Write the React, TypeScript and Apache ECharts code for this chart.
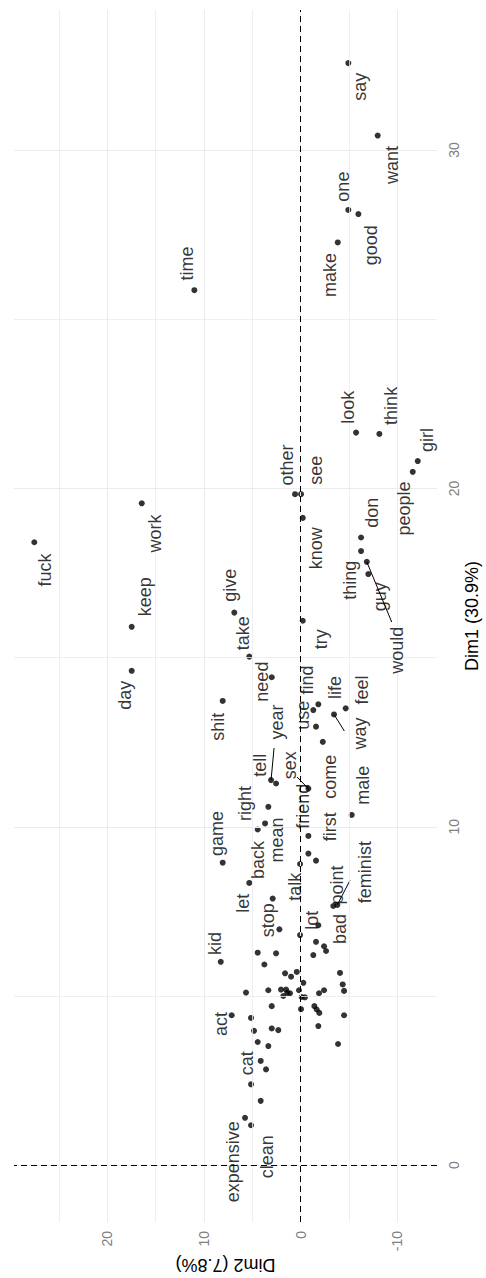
import React, { useEffect, useRef } from "react";
import * as echarts from "echarts";

const words = ["say","want","one","good","make","time","look","think","girl","people","other","see","work","fuck","know","don","thing","would","guy","give","keep","try","take","day","need","shit","life","find","feel","way","use","come","year","tell","sex","right","male","mean","back","friend","first","game","talk","let","stop","point","feminist","lot","bad","kid","act","cat","expensive","clean"];

const dim1 = [32.57,30.43,28.23,28.11,27.27,25.86,21.65,21.61,20.81,20.49,19.83,19.83,19.56,18.41,19.13,18.55,18.15,17.83,17.47,16.33,15.91,16.09,15.03,14.61,14.42,13.72,13.62,13.45,13.50,13.32,12.96,12.51,11.38,11.28,11.13,10.59,10.35,10.10,9.92,9.73,9.00,8.94,8.90,8.34,7.88,7.66,7.69,7.09,6.47,6.01,4.43,2.39,1.40,1.18];
const dim2 = [-4.92,-7.96,-4.92,-5.96,-3.83,11.0,-5.72,-8.13,-12.10,-11.58,0.59,-0.03,16.44,27.55,-0.21,-6.24,-6.24,-6.83,-6.99,6.87,17.48,-0.21,5.32,17.48,3.0,8.07,-1.82,-1.30,-4.65,-3.44,-1.58,-2.28,3.07,2.55,-0.79,3.35,-5.27,3.69,4.45,-0.79,-1.58,8.07,0.07,5.32,2.90,-3.37,-3.78,-1.82,-2.41,8.27,7.14,5.14,5.76,5.14];

const labelDim1 = [31.87,29.56,28.92,27.19,26.31,26.65,22.40,22.44,21.43,19.41,20.69,20.54,18.67,17.59,18.23,19.28,17.29,15.22,16.80,17.14,16.80,15.54,15.72,13.89,14.29,12.96,14.12,14.34,14.04,12.76,13.30,11.48,13.10,11.82,11.82,10.69,11.23,9.61,9.02,10.61,10.0,9.80,8.23,7.74,7.24,8.28,8.66,7.24,6.98,6.55,4.17,3.01,0.10,0.25];
const labelDim2 = [-6.13,-9.41,-4.34,-7.27,-3.03,11.79,-4.92,-9.31,-13.03,-10.71,1.39,-1.58,15.07,26.44,-1.58,-7.34,-5.10,-9.93,-8.20,7.31,16.10,-2.07,5.94,18.17,4.03,8.52,-3.55,-0.62,-6.31,-6.13,-0.27,-3.03,2.48,4.21,1.11,5.76,-6.47,2.42,4.38,-0.24,-3.03,8.69,0.59,5.94,3.35,-3.72,-6.65,-1.14,-4.06,8.86,8.27,5.58,6.97,3.52];

const otherDim1 = [9.21,6.97,6.80,6.60,6.33,6.21,6.28,6.26,5.93,5.67,5.57,5.71,5.68,5.34,5.15,5.39,5.10,5.17,5.19,5.19,5.09,5.08,5.00,5.17,4.97,4.96,5.08,5.17,4.70,4.61,4.70,4.60,4.50,4.43,4.35,4.04,3.99,3.97,4.11,3.64,3.52,3.58,3.08,2.83,1.90];
const otherDim2 = [-0.79,2.21,0.07,-1.58,-2.62,-1.30,4.45,2.55,3.76,1.62,1.00,0.41,-4.06,-4.34,-4.48,-0.27,5.66,3.35,2.04,1.52,1.39,1.11,1.80,0.18,-0.10,-0.44,-1.89,-2.41,3.0,-0.03,-1.41,-1.65,-1.92,-4.48,5.14,3.0,2.32,4.83,-1.82,4.45,3.35,-3.86,4.14,3.59,4.14];

const segWords = ["year","sex","way","would","feminist"];
const segEndDim1 = [12.33,11.47,12.83,16.05,8.42];
const segEndDim2 = [2.76,0.38,-4.51,-9.41,-5.10];

const dim1Ticks = [0,10,20,30];
const dim2Ticks = [-10,0,10,20];
const dim1Minor = [5,15,25];
const dim2Minor = [-5,5,15,25];

const FONT = "Liberation Sans, Arial, sans-serif";

export default function App() {
  const ref = useRef<HTMLDivElement>(null);
  useEffect(() => {
    if (!ref.current) return;
    const chart = echarts.init(ref.current, undefined, { renderer: "svg" });
    const points = words.map((w, i) => [dim2[i], dim1[i]]);
    const others = otherDim1.map((v, i) => [otherDim2[i], v]);
    const labels = words.map((w, i) => ({ value: [labelDim2[i], labelDim1[i]], name: w }));
    const segs = segWords.map((w, k) => {
      const i = words.indexOf(w);
      return { coords: [[dim2[i], dim1[i]], [segEndDim2[k], segEndDim1[k]]] };
    });
    const gridLines = [
      ...dim2Ticks.map((v) => ({ xAxis: v, lineStyle: { width: 1 } })),
      ...dim2Minor.map((v) => ({ xAxis: v, lineStyle: { width: 0.8 } })),
      ...dim1Ticks.map((v) => ({ yAxis: v, lineStyle: { width: 1 } })),
      ...dim1Minor.map((v) => ({ yAxis: v, lineStyle: { width: 0.8 } })),
    ];
    const option: any = {
      animation: false,
      backgroundColor: "#ffffff",
      grid: { left: 14, right: 49, top: 10, bottom: 56, containLabel: false, outerBoundsMode: "none" },
      xAxis: {
        type: "value",
        inverse: true,
        min: -14.09,
        max: 29.65,
        position: "bottom",
        axisLine: { show: false },
        splitLine: { show: false },
        axisTick: { show: true, length: 3, customValues: dim2Ticks, lineStyle: { color: "#808080" } },
        axisLabel: { customValues: dim2Ticks, rotate: 90, margin: 9, color: "#808080", fontSize: 14, fontFamily: FONT },
        name: "Dim2 (7.8%)",
        nameLocation: "middle",
        nameGap: 34,
        nameMoveOverlap: false,
        nameRotate: 180,
        nameTextStyle: { color: "#000", fontSize: 18, fontFamily: FONT },
      },
      yAxis: {
        type: "value",
        min: -1.68,
        max: 34.14,
        position: "right",
        axisLine: { show: false },
        splitLine: { show: false },
        axisTick: { show: true, length: 3, customValues: dim1Ticks, lineStyle: { color: "#808080" } },
        axisLabel: { customValues: dim1Ticks, rotate: 90, margin: 10, color: "#808080", fontSize: 14, fontFamily: FONT },
        name: "Dim1 (30.9%)",
        nameLocation: "middle",
        nameGap: 26,
        nameMoveOverlap: false,
        nameRotate: 90,
        nameTextStyle: { color: "#000", fontSize: 18, fontFamily: FONT },
      },
      series: [
        {
          type: "scatter",
          data: [],
          z: 1,
          silent: true,
          markLine: {
            silent: true,
            symbol: ["none", "none"],
            label: { show: false },
            lineStyle: { color: "#ebebeb", type: "solid" },
            data: gridLines,
          },
        },
        {
          type: "scatter",
          data: [],
          z: 2,
          silent: true,
          markLine: {
            silent: true,
            symbol: ["none", "none"],
            label: { show: false },
            lineStyle: { color: "#000", type: [6, 4], width: 1 },
            data: [{ xAxis: 0 }, { yAxis: 0 }],
          },
        },
        {
          type: "lines",
          coordinateSystem: "cartesian2d",
          z: 3,
          silent: true,
          lineStyle: { color: "#000", width: 1, opacity: 1 },
          data: segs,
        },
        {
          type: "scatter",
          z: 4,
          silent: true,
          symbolSize: 6,
          itemStyle: { color: "#000" },
          data: [...points, ...others],
        },
        {
          type: "scatter",
          z: 5,
          silent: true,
          symbolSize: 0,
          itemStyle: { color: "transparent" },
          label: {
            show: true,
            position: "inside",
            rotate: 90,
            formatter: "{b}",
            color: "#000",
            fontSize: 18,
            fontFamily: FONT,
            align: "center",
            verticalAlign: "middle",
          },
          data: labels,
        },
      ],
    };
    chart.setOption(option);
    return () => chart.dispose();
  }, []);
  return (
    <div
      ref={ref}
      style={{ position: "absolute", left: 0, top: 0, width: 486, height: 1278, background: "#fff" }}
    />
  );
}
